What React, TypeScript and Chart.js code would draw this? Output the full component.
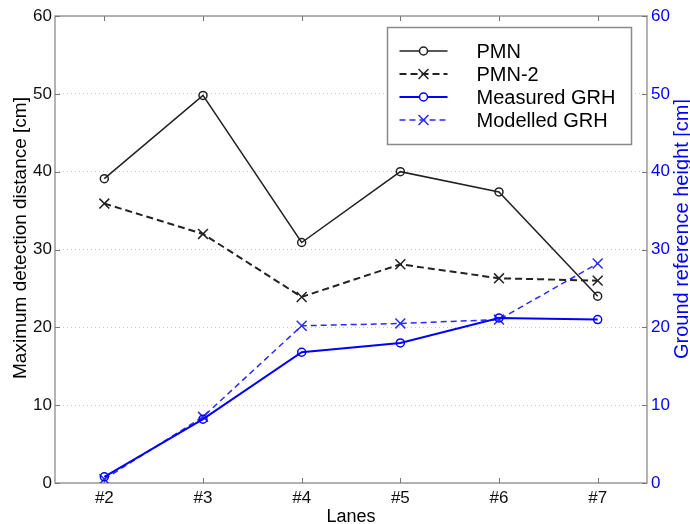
import React, { useEffect, useRef } from 'react';
import { Chart, registerables } from 'chart.js';

Chart.register(...registerables);

const lanes = ['#2', '#3', '#4', '#5', '#6', '#7'];
const pmn = [39.1, 49.8, 30.9, 40.0, 37.4, 24.0];
const pmn2 = [35.9, 32.0, 23.9, 28.1, 26.3, 26.0];
const measuredGRH = [0.8, 8.2, 16.8, 18.0, 21.2, 21.0];
const modelledGRH = [0.5, 8.5, 20.2, 20.5, 21.0, 28.2];
const leftAxisTitle = 'Maximum detection distance [cm]';
const rightAxisTitle = 'Ground reference height [cm]';
const xAxisTitle = 'Lanes';

const FONT = "'Liberation Sans', Arial, sans-serif";
const BLUE = '#0000ff';
const FRAME = '#9a9a9a';

const framePlugin = {
  id: 'matlabFrame',
  beforeDatasetsDraw(chart: any) {
    const { ctx, chartArea, scales } = chart;
    const { left, right, top, bottom } = chartArea;
    ctx.save();
    ctx.strokeStyle = FRAME;
    ctx.lineWidth = 1.5;
    ctx.strokeRect(left, top, right - left, bottom - top);
    ctx.lineWidth = 1;
    ctx.strokeStyle = '#777';
    const seg = (x1: number, y1: number, x2: number, y2: number) => {
      ctx.beginPath();
      ctx.moveTo(x1, y1);
      ctx.lineTo(x2, y2);
      ctx.stroke();
    };
    const xs = scales.x;
    xs.ticks.forEach((_: any, i: number) => {
      const px = Math.round(xs.getPixelForTick(i)) + 0.5;
      seg(px, bottom, px, bottom - 5);
      seg(px, top, px, top + 5);
    });
    const ys = scales.y;
    ys.ticks.forEach((_: any, i: number) => {
      const py = Math.round(ys.getPixelForTick(i)) + 0.5;
      seg(left, py, left + 5, py);
    });
    const y1 = scales.y1;
    y1.ticks.forEach((_: any, i: number) => {
      const py = Math.round(y1.getPixelForTick(i)) + 0.5;
      seg(right, py, right - 5, py);
    });
    ctx.restore();
  },
  afterDraw(chart: any) {
    const { ctx, chartArea } = chart;
    const { right } = chartArea;
    ctx.save();
    // rotated axis titles
    ctx.font = `19px ${FONT}`;
    ctx.textAlign = 'center';
    ctx.textBaseline = 'middle';
    ctx.fillStyle = '#000';
    ctx.save();
    ctx.translate(21, 238);
    ctx.rotate(-Math.PI / 2);
    ctx.fillText(leftAxisTitle, 0, 0);
    ctx.restore();
    ctx.save();
    ctx.font = `20px ${FONT}`;
    ctx.fillStyle = BLUE;
    ctx.translate(right + 35, 229);
    ctx.rotate(-Math.PI / 2);
    ctx.fillText(rightAxisTitle, 0, 0);
    ctx.restore();

    // legend
    const bx = 387.5, by = 27.5, bw = 244, bh = 117;
    ctx.fillStyle = '#fff';
    ctx.fillRect(bx, by, bw, bh);
    ctx.strokeStyle = '#8a8a8a';
    ctx.lineWidth = 1.5;
    ctx.strokeRect(bx, by, bw, bh);
    ctx.font = `20px ${FONT}`;
    ctx.textAlign = 'left';
    ctx.textBaseline = 'middle';
    chart.data.datasets.forEach((ds: any, i: number) => {
      const y = by + 23.5 + i * 23;
      ctx.save();
      ctx.strokeStyle = ds.borderColor;
      ctx.lineWidth = ds.borderWidth;
      ctx.setLineDash(ds.borderDash || []);
      ctx.beginPath();
      ctx.moveTo(bx + 12, y);
      ctx.lineTo(bx + 60, y);
      ctx.stroke();
      ctx.setLineDash([]);
      ctx.lineWidth = ds.pointBorderWidth;
      const cx = bx + 36;
      const r = ds.pointRadius;
      if (ds.pointStyle === 'circle') {
        ctx.fillStyle = '#fff';
        ctx.beginPath();
        ctx.arc(cx, y, r, 0, Math.PI * 2);
        ctx.fill();
        ctx.stroke();
      } else {
        const d = r * Math.SQRT1_2;
        ctx.beginPath();
        ctx.moveTo(cx - d, y - d);
        ctx.lineTo(cx + d, y + d);
        ctx.moveTo(cx - d, y + d);
        ctx.lineTo(cx + d, y - d);
        ctx.stroke();
      }
      ctx.restore();
      ctx.fillStyle = '#000';
      ctx.fillText(ds.label, bx + 89, y + 1);
    });
    ctx.restore();
  },
};

export default function App() {
  const ref = useRef<HTMLCanvasElement>(null);
  useEffect(() => {
    if (!ref.current) return;
    const chart = new Chart(ref.current, {
      type: 'line',
      data: {
        labels: lanes,
        datasets: [
          {
            label: 'PMN',
            data: pmn,
            yAxisID: 'y',
            borderColor: '#222',
            borderWidth: 1.5,
            pointStyle: 'circle',
            pointRadius: 4,
            pointBorderWidth: 1.5,
            pointBackgroundColor: 'rgba(255,255,255,0)',
            pointBorderColor: '#222',
            tension: 0,
          },
          {
            label: 'PMN-2',
            data: pmn2,
            yAxisID: 'y',
            borderColor: '#222',
            borderWidth: 2,
            borderDash: [7, 4],
            pointStyle: 'crossRot',
            pointRadius: 7,
            pointBorderWidth: 1.5,
            pointBorderColor: '#222',
            tension: 0,
          },
          {
            label: 'Measured GRH',
            data: measuredGRH,
            yAxisID: 'y1',
            borderColor: BLUE,
            borderWidth: 2,
            pointStyle: 'circle',
            pointRadius: 4,
            pointBorderWidth: 1.5,
            pointBackgroundColor: 'rgba(255,255,255,0)',
            pointBorderColor: BLUE,
            tension: 0,
          },
          {
            label: 'Modelled GRH',
            data: modelledGRH,
            yAxisID: 'y1',
            borderColor: '#2a2aff',
            borderWidth: 1.5,
            borderDash: [6, 4],
            pointStyle: 'crossRot',
            pointRadius: 7,
            pointBorderWidth: 1.5,
            pointBorderColor: '#2a2aff',
            tension: 0,
          },
        ],
      },
      options: {
        responsive: false,
        animation: false,
        devicePixelRatio: 1,
        layout: { padding: { top: 16, left: 0, right: 0, bottom: 0 } },
        plugins: { legend: { display: false }, tooltip: { enabled: false } },
        scales: {
          x: {
            type: 'category',
            offset: true,
            grid: { display: false, drawTicks: false },
            border: { display: false },
            ticks: { font: { family: FONT, size: 17 }, color: '#111', padding: 5, maxRotation: 0 },
            title: {
              display: true,
              text: xAxisTitle,
              font: { family: FONT, size: 18 },
              color: '#000',
              padding: { top: 0, bottom: -4 },
            },
            afterFit: (s: any) => { s.height = 41; },
          },
          y: {
            position: 'left',
            min: 0,
            max: 60,
            ticks: { stepSize: 10, font: { family: FONT, size: 17 }, color: '#111', padding: 3 },
            grid: { color: '#c8c8c8', lineWidth: 1, drawTicks: false },
            border: { display: false, dash: [1, 3] },
            afterFit: (s: any) => { s.width = 55; },
          },
          y1: {
            position: 'right',
            min: 0,
            max: 60,
            ticks: { stepSize: 10, font: { family: FONT, size: 17 }, color: BLUE, padding: 4 },
            grid: { drawOnChartArea: false, drawTicks: false },
            border: { display: false },
            afterFit: (s: any) => { s.width = 43; },
          },
        },
      },
      plugins: [framePlugin],
    });
    return () => chart.destroy();
  }, []);
  return (
    <div style={{ position: 'absolute', left: 0, top: 0, width: 690, height: 524, background: '#fff' }}>
      <canvas ref={ref} width={690} height={524} style={{ display: 'block' }} />
    </div>
  );
}
